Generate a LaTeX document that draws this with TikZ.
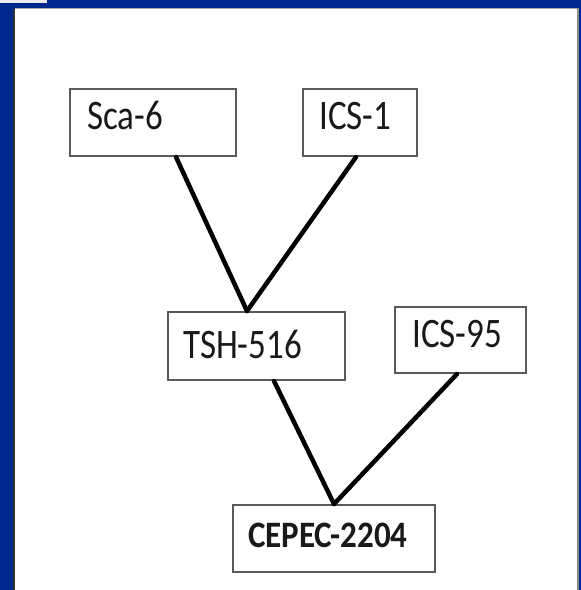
\documentclass[tikz,border=0pt]{standalone}
\usepackage{fontspec}
\setmainfont{Carlito}
\usepackage{graphicx}
\begin{document}
\begin{tikzpicture}[x=1pt,y=-1pt,
  box/.style={draw=boxgray,line width=2pt,fill=white,inner sep=0pt,
    minimum width=#1,minimum height=67pt},
  label/.style={anchor=base west,inner sep=0pt,
    font=\fontsize{35}{42}\selectfont,text=black!90},
  link/.style={line width=4.5pt,black,line cap=round}]
\definecolor{slideblue}{RGB}{0,40,140}
\definecolor{boxgray}{RGB}{90,90,90}
% slide frame
\fill[slideblue] (0,0) rectangle (581,590);
\useasboundingbox (0,0) rectangle (581,590);
\fill[white] (15,8) rectangle (578,590);
\draw[black!80,line width=2pt] (14,9) -- (14,590);
\draw[black!35,line width=1pt] (15,8.5) -- (578,8.5);
\draw[black!45,line width=1.5pt] (578,8) -- (578,590);
\fill[white!85!gray] (0,0) rectangle (47,3);
% boxes
\node[box=166pt] (sca)   at (153,122.5) {};
\node[box=114pt] (ics1)  at (360,122.5) {};
\node[box=177pt,minimum height=68pt] (tsh) at (256.5,346) {};
\node[box=131pt,minimum height=66pt] (ics95) at (460.5,340) {};
\node[box=202pt] (cepec) at (334,538.5) {};
% labels
\node[label] (tsca)   at (87,129)  {\scalebox{1}[1.2]{Sca-6}};
\node[label] (tics1)  at (319,129) {\scalebox{1}[1.2]{ICS-1}};
\node[label] (ttsh)   at (183,358) {\scalebox{1}[1.2]{TSH-516}};
\node[label] (tics95) at (412,347) {\scalebox{1}[1.2]{ICS-95}};
\node[label,font=\fontsize{33}{40}\selectfont\bfseries] (tcepec) at (248,547)
  {\scalebox{1}[1.13]{CEPEC-2204}};
% pedigree links
\coordinate (tshtop) at ([xshift=-9.5pt]tsh.north);
\draw[link] ([xshift=107pt]sca.south west) -- (tshtop);
\draw[link] ([xshift=54pt]ics1.south west) -- (tshtop);
\draw[link] ([xshift=107pt]tsh.south west) -- (cepec.north);
\draw[link] ([xshift=63pt]ics95.south west) -- (cepec.north);
\end{tikzpicture}
\end{document}
